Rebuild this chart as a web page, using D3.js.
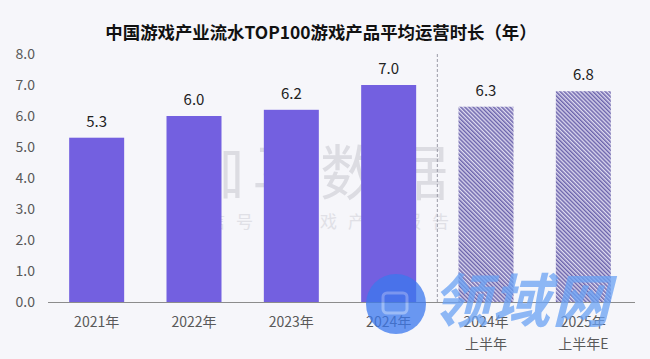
<!DOCTYPE html>
<html><head><meta charset="utf-8">
<script src="https://cdn.jsdelivr.net/npm/d3@7"></script>
<style>html,body{margin:0;padding:0;background:#f6f6fa;}svg{display:block;}</style>
</head><body><svg id="c" width="650" height="359"></svg>
<script>
const categories = ["2021年", "2022年", "2023年", "2024年", "2024年\n上半年", "2025年\n上半年E"];
const values = [5.3, 6.0, 6.2, 7.0, 6.3, 6.8];
const hatched = [false, false, false, false, true, true];
const yTicks = [0, 1, 2, 3, 4, 5, 6, 7, 8];
const title = "中国游戏产业流水TOP100游戏产品平均运营时长（年）";

const svg = d3.select("#c");
const W = 650, H = 359;
const font = "'Noto Sans CJK SC','Noto Sans',sans-serif";
svg.append("rect").attr("width", W).attr("height", H).attr("fill", "#f6f6fa");

const defs = svg.append("defs");
const pat = defs.append("pattern").attr("id", "hatch").attr("patternUnits", "userSpaceOnUse")
  .attr("width", 2.9).attr("height", 2.9).attr("patternTransform", "rotate(-45)");
pat.append("rect").attr("width", 2.9).attr("height", 2.9).attr("fill", "#dedbf0");
pat.append("rect").attr("width", 1.5).attr("height", 2.9).attr("fill", "#6c64ac");

const x = d3.scaleBand().domain(categories).range([48, 632]).paddingInner(0.435).paddingOuter(0.2175);
const y = d3.scaleLinear().domain([0, 8]).range([302, 54]);

// watermark
svg.append("text").attr("x", 320).attr("y", 195).attr("text-anchor", "middle")
  .attr("font-family", font).attr("font-size", 60).attr("fill", "#dcdce2").attr("letter-spacing", 8)
  .text("伽马数据");
svg.append("text").attr("x", 320).attr("y", 228).attr("text-anchor", "middle")
  .attr("font-family", font).attr("font-size", 17).attr("fill", "#e0e0e6").attr("letter-spacing", 11)
  .text("微信号：游戏产业报告");

// title
svg.append("text").attr("x", 321).attr("y", 39).attr("text-anchor", "middle")
  .attr("font-family", font).attr("font-size", 17.4).attr("font-weight", "bold").attr("fill", "#111")
  .text(title);

// y axis
const yAxis = d3.axisLeft(y).tickValues(yTicks).tickFormat(d3.format(".1f")).tickSize(0).tickPadding(0);
const ya = svg.append("g").attr("transform", "translate(35,0)").call(yAxis);
ya.select(".domain").remove();
ya.selectAll("text").attr("font-family", font).attr("font-size", 14).attr("fill", "#595959");

// bars
svg.selectAll("rect.bar").data(categories).enter().append("rect").attr("class", "bar")
  .attr("x", d => x(d)).attr("width", x.bandwidth())
  .attr("y", (d, i) => y(values[i])).attr("height", (d, i) => y(0) - y(values[i]))
  .attr("fill", (d, i) => hatched[i] ? "url(#hatch)" : "#7360e0");

// dashed separator
const sepX = (x(categories[3]) + x.bandwidth() + x(categories[4])) / 2;
svg.append("line").attr("x1", sepX).attr("x2", sepX).attr("y1", 54).attr("y2", 302)
  .attr("stroke", "#9a9aa6").attr("stroke-width", 1).attr("stroke-dasharray", "3,2");

// x axis
const xAxis = d3.axisBottom(x).tickSize(0).tickFormat("");
const xa = svg.append("g").attr("transform", "translate(0,302)").call(xAxis);
xa.select(".domain").attr("stroke", "#8c8c8c").attr("d", "M48,0.5H635");
categories.forEach((c) => {
  const lines = c.split("\n");
  const cx = x(c) + x.bandwidth() / 2;
  const t = svg.append("text").attr("x", cx).attr("text-anchor", "middle")
    .attr("font-family", font).attr("font-size", 14).attr("fill", "#595959");
  lines.forEach((l, j) => t.append("tspan").attr("x", cx).attr("y", 327 + j * 22).text(l));
});

// value labels
svg.selectAll("text.val").data(categories).enter().append("text").attr("class", "val")
  .attr("x", d => x(d) + x.bandwidth() / 2).attr("y", (d, i) => y(values[i]) - 11)
  .attr("text-anchor", "middle").attr("font-family", font).attr("font-size", 15).attr("fill", "#222")
  .text((d, i) => d3.format(".1f")(values[i]));

// blue overlay logo watermark
const lg = svg.append("g").attr("opacity", 0.75);
lg.append("circle").attr("cx", 396).attr("cy", 304).attr("r", 30).attr("fill", "#3b78ee");
lg.append("rect").attr("x", 383).attr("y", 293).attr("width", 24).attr("height", 20).attr("rx", 4)
  .attr("fill", "none").attr("stroke", "#7ea8f5").attr("stroke-width", 3);
lg.append("text").attr("x", 432).attr("y", 322).attr("font-family", font).attr("font-size", 58)
  .attr("font-weight", "bold").attr("font-style", "italic").attr("fill", "#6aa2f4").attr("letter-spacing", 2)
  .text("领域网");
</script></body></html>
